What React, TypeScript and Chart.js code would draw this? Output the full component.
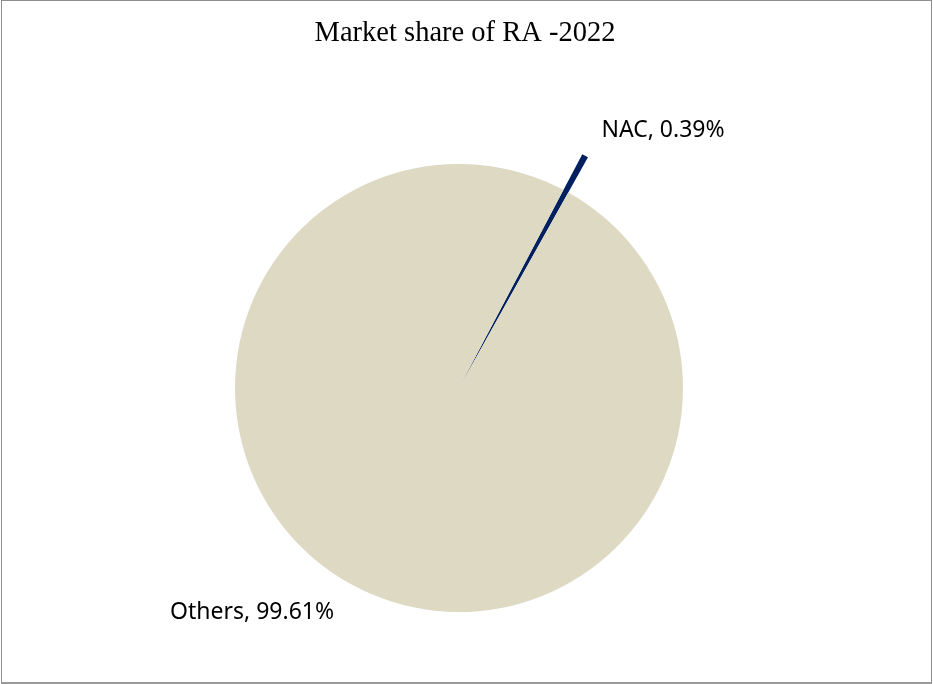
import React, { useEffect, useRef } from "react";
import { Chart, registerables } from "chart.js";

Chart.register(...registerables);

// ---- data ----
const TITLE = "Market share of RA -2022";
const categories = ["NAC", "Others"];
const shares = [0.39, 99.61];
const sliceColors = ["#002060", "#DDD9C3"];

// ---- presentation ----
const START_ANGLE = 27.8; // degrees clockwise from 12 o'clock
const NAC_RADIUS_RATIO = 1.18; // NAC wedge drawn longer than the pie
// label anchors: polar (angle deg clockwise from top, distance as multiple of radius)
const labelPolar = [
  { angle: 38.2, dist: 1.473 },
  { angle: 222.9, dist: 1.357 },
];
const LABEL_FONT_SIZE = 23;
const LABEL_FONT = `${LABEL_FONT_SIZE}px "Noto Sans", sans-serif`;
const TITLE_FONT = `28.5px "Liberation Serif", "Times New Roman", serif`;

const fmt = (v: number) => v.toFixed(2) + "%";

const extendPlugin = {
  id: "extendNac",
  beforeDatasetsDraw(chart: any) {
    const meta = chart.getDatasetMeta(0);
    const ctrl: any = meta.controller;
    const arc: any = meta.data[0];
    if (arc && ctrl && ctrl.outerRadius) {
      arc.outerRadius = ctrl.outerRadius * NAC_RADIUS_RATIO;
    }
  },
};

const textPlugin = {
  id: "texts",
  afterDatasetsDraw(chart: any) {
    const ctx = chart.ctx;
    const meta = chart.getDatasetMeta(0);
    const ctrl: any = meta.controller;
    const first: any = meta.data[1];
    const cx = first.x;
    const cy = first.y;
    const r = ctrl.outerRadius;
    ctx.save();
    ctx.fillStyle = "#000";
    ctx.textAlign = "center";
    ctx.textBaseline = "alphabetic";
    ctx.font = LABEL_FONT;
    categories.forEach((c, i) => {
      const p = labelPolar[i];
      const a = (p.angle * Math.PI) / 180;
      const x = cx + Math.sin(a) * r * p.dist;
      const y = cy - Math.cos(a) * r * p.dist;
      ctx.fillText(`${c}, ${fmt(shares[i])}`, x, y + LABEL_FONT_SIZE * 0.357);
    });
    ctx.font = TITLE_FONT;
    ctx.fillText(TITLE, 465, 41);
    ctx.restore();
  },
};

export default function App() {
  const ref = useRef<HTMLCanvasElement | null>(null);
  useEffect(() => {
    if (!ref.current) return;
    const chart = new Chart(ref.current, {
      type: "pie",
      data: {
        labels: categories,
        datasets: [
          {
            data: shares,
            backgroundColor: sliceColors,
            borderWidth: 0,
          },
        ],
      },
      options: {
        responsive: false,
        animation: false,
        events: [],
        rotation: START_ANGLE,
        layout: { padding: { left: 235, right: 250, top: 164, bottom: 72 } },
        plugins: {
          legend: { display: false },
          tooltip: { enabled: false },
          title: { display: false },
        },
      },
      plugins: [extendPlugin, textPlugin],
    });
    return () => chart.destroy();
  }, []);

  return (
    <div
      style={{
        position: "fixed",
        left: 0,
        top: 0,
        width: 933,
        height: 684,
        background: "#fff",
      }}
    >
      <canvas
        ref={ref}
        width={933}
        height={684}
        style={{ position: "absolute", left: 0, top: 0, width: 933, height: 684 }}
      />
      <div
        style={{
          position: "absolute",
          left: 1,
          top: 0,
          width: 931,
          height: 684,
          boxSizing: "border-box",
          border: "1px solid #8e8e8e",
          borderBottom: "2px solid #9a9a9a",
          pointerEvents: "none",
        }}
      />
    </div>
  );
}
